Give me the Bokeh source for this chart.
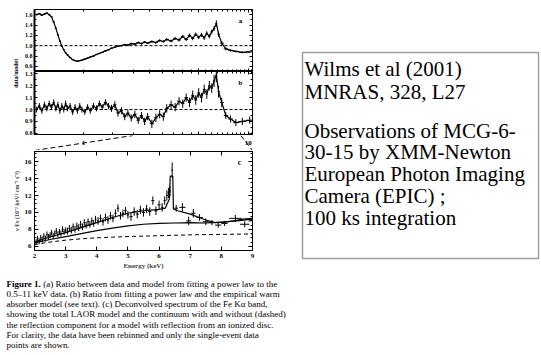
import math
from bokeh.plotting import figure
from bokeh.models import (Range1d, LinearAxis, LogAxis, FixedTicker, Span,
                          ColumnDataSource, PrintfTickFormatter, LogTicker)
from bokeh.layouts import row, column
from bokeh.embed import file_html
from bokeh.resources import INLINE
from bokeh.core.properties import value

# ---------------- data ----------------
ratio_energy = [0.52, 0.54, 0.56, 0.58, 0.60, 0.62, 0.64, 0.66, 0.68, 0.70,
                0.72, 0.74, 0.76, 0.78, 0.80, 0.83, 0.86, 0.89, 0.92, 0.95,
                0.98, 1.02, 1.06, 1.10, 1.15, 1.20, 1.25, 1.30, 1.36, 1.42,
                1.48, 1.55, 1.62, 1.70, 1.78, 1.86, 1.95, 2.05, 2.15, 2.25,
                2.35, 2.45, 2.60, 2.75, 2.90, 3.05, 3.20, 3.40, 3.60, 3.80,
                4.00, 4.20, 4.40, 4.60, 4.80, 5.00, 5.20, 5.40, 5.60, 5.80,
                6.00, 6.20, 6.40, 6.60, 6.90, 7.30, 7.80, 8.40, 9.20, 10.2]
ratio_powerlaw = [1.60, 1.62, 1.59, 1.61, 1.63, 1.60, 1.56, 1.46, 1.34, 1.21,
                  1.09, 0.99, 0.92, 0.86, 0.82, 0.77, 0.73, 0.71, 0.70, 0.71,
                  0.72, 0.74, 0.76, 0.78, 0.80, 0.83, 0.85, 0.87, 0.90, 0.92,
                  0.95, 0.97, 0.99, 1.00, 1.02, 1.01, 1.04, 1.03, 1.06, 1.04,
                  1.07, 1.05, 1.08, 1.06, 1.10, 1.08, 1.12, 1.09, 1.14, 1.11,
                  1.18, 1.12, 1.20, 1.14, 1.22, 1.16, 1.21, 1.15, 1.24, 1.18,
                  1.27, 1.33, 1.43, 1.22, 1.05, 0.94, 0.91, 0.89, 0.87, 0.88]
ratio_powerlaw_err = [0.015, 0.015, 0.015, 0.015, 0.015, 0.015, 0.015, 0.015, 0.015, 0.015,
                      0.012, 0.012, 0.012, 0.012, 0.012, 0.012, 0.012, 0.012, 0.012, 0.012,
                      0.012, 0.012, 0.012, 0.012, 0.012, 0.012, 0.012, 0.012, 0.015, 0.015,
                      0.015, 0.015, 0.015, 0.015, 0.015, 0.015, 0.02, 0.02, 0.02, 0.02,
                      0.02, 0.02, 0.025, 0.025, 0.025, 0.025, 0.025, 0.025, 0.03, 0.03,
                      0.03, 0.03, 0.035, 0.035, 0.035, 0.035, 0.04, 0.04, 0.04, 0.04,
                      0.04, 0.05, 0.06, 0.05, 0.04, 0.03, 0.025, 0.02, 0.02, 0.02]
ratio_warmabs = [1.00, 1.03, 0.99, 1.04, 1.01, 1.05, 1.02, 1.06, 1.01, 1.04,
                 0.99, 1.03, 1.00, 1.05, 1.01, 1.03, 0.98, 1.02, 0.99, 1.03,
                 1.00, 0.98, 1.02, 0.99, 1.03, 1.01, 1.05, 1.02, 1.06, 1.03,
                 1.01, 1.04, 0.97, 0.99, 0.94, 0.97, 0.93, 0.96, 0.91, 0.95,
                 0.90, 0.94, 0.88, 0.93, 0.96, 0.94, 1.01, 1.04, 1.02, 1.07,
                 1.05, 1.10, 1.06, 1.12, 1.08, 1.14, 1.10, 1.17, 1.13, 1.20,
                 1.18, 1.24, 1.29, 1.15, 1.06, 0.95, 0.92, 0.89, 0.90, 0.91]
ratio_warmabs_err = [0.025, 0.025, 0.025, 0.025, 0.025, 0.025, 0.025, 0.025, 0.025, 0.025,
                     0.025, 0.025, 0.025, 0.025, 0.025, 0.025, 0.025, 0.025, 0.025, 0.025,
                     0.025, 0.025, 0.025, 0.025, 0.025, 0.025, 0.025, 0.025, 0.025, 0.025,
                     0.03, 0.03, 0.03, 0.03, 0.03, 0.03, 0.03, 0.03, 0.03, 0.03,
                     0.03, 0.03, 0.035, 0.035, 0.035, 0.035, 0.035, 0.035, 0.035, 0.035,
                     0.035, 0.035, 0.04, 0.04, 0.04, 0.04, 0.04, 0.04, 0.04, 0.04,
                     0.04, 0.05, 0.06, 0.05, 0.04, 0.03, 0.03, 0.03, 0.03, 0.03]

ratio_xrange = [0.505, 10.6]
a_yrange = [0.5, 1.7]
b_yrange = [0.79, 1.32]
a_yticks = [0.6, 0.8, 1.0, 1.2, 1.4, 1.6]
a_yminor = [0.5, 0.7, 0.9, 1.1, 1.3, 1.5, 1.7]
b_yticks = [0.8, 0.9, 1.0, 1.1, 1.2, 1.3]
b_yminor = [0.85, 0.95, 1.05, 1.15, 1.25]
ratio_xticks = [1, 10]
ratio_xtick_labels = ["1", "10"]

fe_energy = [2.05, 2.10, 2.15, 2.20, 2.25, 2.30, 2.35, 2.40, 2.45, 2.50,
             2.55, 2.60, 2.65, 2.70, 2.75, 2.80, 2.85, 2.90, 2.95, 3.00,
             3.06, 3.12, 3.18, 3.24, 3.30, 3.36, 3.42, 3.48, 3.54, 3.60,
             3.66, 3.72, 3.78, 3.84, 3.90, 3.96,
             4.04, 4.12, 4.20, 4.28, 4.36, 4.44, 4.52, 4.60, 4.68, 4.76, 4.84, 4.92, 5.00,
             5.10, 5.20, 5.30, 5.40, 5.50, 5.60, 5.70, 5.80, 5.90, 6.00,
             6.10, 6.18, 6.25, 6.30, 6.35, 6.42,
             6.55, 6.75, 6.95, 7.10, 7.30, 7.50, 7.70, 7.90, 8.10, 8.45, 8.75, 9.00]
fe_flux = [6.5, 6.9, 6.6, 7.0, 6.8, 7.2, 6.9, 7.4, 7.1, 7.3,
           7.6, 7.2, 7.5, 7.8, 7.4, 7.7, 7.5, 8.0, 7.7, 7.9,
           7.8, 8.1, 7.9, 8.3, 8.0, 8.4, 8.2, 8.6, 8.3, 8.8,
           8.5, 8.9, 8.6, 9.0, 8.7, 9.2,
           9.0, 9.3, 8.9, 9.4, 9.1, 9.6, 9.3, 9.9, 10.5, 9.6, 9.9, 10.2, 9.7,
           9.5, 10.1, 9.8, 10.3, 10.0, 10.4, 10.1, 11.4, 10.2, 10.9,
           10.6, 11.4, 12.0, 12.3, 12.5, 15.0,
           10.5, 10.6, 9.0, 9.9, 9.4, 8.9, 8.8, 8.5, 8.7, 9.3, 8.6, 9.0]
fe_energy_err = [0.025, 0.025, 0.025, 0.025, 0.025, 0.025, 0.025, 0.025, 0.025, 0.025,
                 0.025, 0.025, 0.025, 0.025, 0.025, 0.025, 0.025, 0.025, 0.025, 0.025,
                 0.03, 0.03, 0.03, 0.03, 0.03, 0.03, 0.03, 0.03, 0.03, 0.03,
                 0.03, 0.03, 0.03, 0.03, 0.03, 0.03,
                 0.04, 0.04, 0.04, 0.04, 0.04, 0.04, 0.04, 0.04, 0.04, 0.04, 0.04, 0.04, 0.04,
                 0.05, 0.05, 0.05, 0.05, 0.05, 0.05, 0.05, 0.05, 0.05, 0.05,
                 0.04, 0.035, 0.03, 0.025, 0.025, 0.03,
                 0.06, 0.10, 0.08, 0.07, 0.10, 0.10, 0.10, 0.10, 0.10, 0.20, 0.15, 0.12]
fe_flux_err = [0.35, 0.35, 0.35, 0.35, 0.35, 0.35, 0.35, 0.35, 0.35, 0.35,
               0.35, 0.35, 0.35, 0.35, 0.35, 0.35, 0.35, 0.35, 0.35, 0.35,
               0.4, 0.4, 0.4, 0.4, 0.4, 0.4, 0.4, 0.4, 0.4, 0.4,
               0.4, 0.4, 0.4, 0.4, 0.4, 0.4,
               0.45, 0.45, 0.45, 0.45, 0.45, 0.45, 0.45, 0.45, 0.45, 0.45, 0.45, 0.45, 0.45,
               0.5, 0.5, 0.5, 0.5, 0.5, 0.5, 0.5, 0.5, 0.5, 0.5,
               0.5, 0.5, 0.6, 0.6, 0.6, 0.9,
               0.4, 0.5, 0.5, 0.5, 0.4, 0.4, 0.3, 0.3, 0.3, 0.4, 0.35, 0.35]

model_energy = [2.0, 2.5, 3.0, 3.5, 4.0, 4.5, 5.0, 5.5, 6.0, 6.2, 6.33, 6.36,
                6.44, 6.46, 6.6, 7.0, 7.5, 7.8, 8.1, 8.4, 8.7, 9.0]
model_total = [6.5, 7.1, 7.6, 8.2, 8.8, 9.4, 9.9, 10.2, 10.35, 10.5, 11.6, 14.3,
               14.3, 10.4, 10.2, 9.8, 9.1, 8.8, 8.85, 9.0, 9.2, 9.3]
cont_energy = [2.0, 2.5, 3.0, 3.5, 4.0, 4.5, 5.0, 5.5, 6.0, 6.5, 7.0, 7.5, 8.0, 8.5, 9.0]
cont_with_refl = [6.4, 6.8, 7.15, 7.5, 7.85, 8.15, 8.4, 8.6, 8.7, 8.75, 8.8, 8.75, 8.85, 9.0, 9.2]
cont_without_refl = [6.2, 6.5, 6.72, 6.88, 7.0, 7.08, 7.15, 7.2, 7.25, 7.3, 7.35, 7.38, 7.4, 7.43, 7.45]

c_xrange = [2, 9]
c_yrange = [5.5, 17.2]
c_xticks = [2, 3, 4, 5, 6, 7, 8, 9]
c_yticks = [6, 8, 10, 12, 14, 16]
c_yminor = [5.5, 6.5, 7, 7.5, 8.5, 9, 9.5, 10.5, 11, 11.5, 12.5, 13, 13.5,
            14.5, 15, 15.5, 16.5, 17]

caption_bold = "Figure 1."
caption_lines = [
    "(a) Ratio between data and model from fitting a power law to the",
    "0.5\u201311 keV data. (b) Ratio from fitting a power law and the empirical warm",
    "absorber model (see text). (c) Deconvolved spectrum of the Fe K\u03b1 band,",
    "showing the total LAOR model and the continuum with and without (dashed)",
    "the reflection component for a model with reflection from an ionized disc.",
    "For clarity, the data have been rebinned and only the single-event data",
    "points are shown.",
]
box_para1 = ["Wilms et al (2001)", "MNRAS, 328, L27"]
box_para2 = ["Observations of MCG-6-", "30-15 by XMM-Newton",
             "European Photon Imaging", "Camera (EPIC) ;", "100 ks integration"]

# ---------------- helpers ----------------
SERIF = "Liberation Serif"


def make_fig(w, h, xr, yr, borders, xlog=False, outline="black"):
    p = figure(width=w, height=h, x_range=Range1d(*xr), y_range=Range1d(*yr),
               x_axis_type="log" if xlog else "linear",
               x_axis_location=None, y_axis_location=None,
               output_backend="svg", toolbar_location=None,
               min_border_left=borders[0], min_border_right=borders[1],
               min_border_top=borders[2], min_border_bottom=borders[3])
    p.grid.visible = False
    p.background_fill_color = "white"
    p.border_fill_color = "white"
    p.outline_line_color = outline
    p.outline_line_width = 1
    return p


def style_axis(ax, labels, size="6px", tin=3, min_in=2, width=1):
    ax.major_tick_in = tin
    ax.major_tick_out = 0
    ax.minor_tick_in = min_in
    ax.minor_tick_out = 0
    ax.axis_line_color = "black"
    ax.axis_line_width = width
    ax.major_tick_line_color = "black"
    ax.minor_tick_line_color = "black"
    if labels:
        ax.major_label_text_font = SERIF
        ax.major_label_text_font_style = "bold"
        ax.major_label_text_font_size = size
        ax.major_label_text_color = "black"
        ax.major_label_standoff = 2
    else:
        ax.major_label_text_font_size = "1px"
        ax.major_label_text_color = None
        ax.major_label_standoff = 0
        ax.axis_label = None


def frac_log(r, f):
    return r[0] * (r[1] / r[0]) ** f


def frac_lin(r, f):
    return r[0] + (r[1] - r[0]) * f


def log_bins(e):
    edges = []
    for i in range(len(e)):
        lo = math.sqrt(e[i - 1] * e[i]) if i > 0 else e[0] / math.sqrt(e[1] / e[0])
        hi = math.sqrt(e[i] * e[i + 1]) if i < len(e) - 1 else e[-1] * math.sqrt(e[-1] / e[-2])
        edges.append((lo, hi))
    return edges


def ratio_panel(h, yr, yticks, yminor, vals, errs, letter, borders, letter_fy):
    p = make_fig(270, h, ratio_xrange, yr, borders, xlog=True)
    left = LinearAxis(ticker=FixedTicker(ticks=yticks, minor_ticks=yminor),
                      formatter=PrintfTickFormatter(format="%.1f"))
    style_axis(left, True, "6px", 3, 2, 2)
    right = LinearAxis(ticker=FixedTicker(ticks=yticks, minor_ticks=yminor))
    style_axis(right, False, tin=3, min_in=2)
    below = LogAxis(ticker=LogTicker(num_minor_ticks=10))
    style_axis(below, False, tin=3, min_in=2)
    above = LogAxis(ticker=LogTicker(num_minor_ticks=10))
    style_axis(above, False, tin=3, min_in=2)
    p.add_layout(left, "left")
    p.add_layout(right, "right")
    p.add_layout(below, "below")
    p.add_layout(above, "above")
    p.add_layout(Span(location=1.0, dimension="width", line_color="black",
                      line_width=1, line_dash="3 2"))
    bins = log_bins(ratio_energy)
    src = ColumnDataSource(dict(
        e=ratio_energy, v=vals,
        lo=[v - d for v, d in zip(vals, errs)],
        hi=[v + d for v, d in zip(vals, errs)],
        x0=[b[0] for b in bins], x1=[b[1] for b in bins]))
    p.line("e", "v", source=src, line_color="black", line_width=1.2)
    p.segment("e", "lo", "e", "hi", source=src, line_color="black", line_width=1)
    p.segment("x0", "v", "x1", "v", source=src, line_color="black", line_width=1)
    p.text(x=[frac_log(ratio_xrange, 0.945)], y=[frac_lin(yr, letter_fy)], text=[letter],
           text_font=value(SERIF), text_font_style="bold", text_font_size="7px",
           text_align="center", text_baseline="middle", text_color="black")
    return p


# ---------------- panels a, b ----------------
pa = ratio_panel(71, a_yrange, a_yticks, a_yminor, ratio_powerlaw, ratio_powerlaw_err,
                 "a", (14, 38, 9, 0), 0.82)
pb = ratio_panel(64, b_yrange, b_yticks, b_yminor, ratio_warmabs, ratio_warmabs_err,
                 "b", (14, 38, 0, 1), 0.82)

plab = make_fig(20, 135, [0, 20], [135, 0], (0, 0, 0, 0), outline=None)
plab.text(x=[15], y=[73], text=["data/model"], angle=math.pi / 2,
          text_font=value(SERIF), text_font_style="bold", text_font_size="6px",
          text_align="center", text_baseline="middle", text_color="black")

# ---------------- connector ----------------
pconn = make_fig(290, 15, ratio_xrange, [0, 1], (34, 38, 0, 0), xlog=True, outline=None)
pconn.segment(x0=[ratio_xrange[0], c_xrange[1]], y0=[0, 1],
              x1=[c_xrange[0], ratio_xrange[1]], y1=[1, 0],
              line_color="black", line_width=1, line_dash="5 3")
pconn.text(x=ratio_xticks, y=[0.5, 0.5], text=ratio_xtick_labels,
           text_font=value(SERIF), text_font_style="bold", text_font_size="7px",
           text_align="center", text_baseline="middle", text_color="black")

# ---------------- panel c ----------------
pc = make_fig(290, 122, c_xrange, c_yrange, (34, 37, 1, 19))
cx = LinearAxis(ticker=FixedTicker(ticks=c_xticks), axis_label="Energy (keV)")
style_axis(cx, True, "7px", 4, 2)
cx.major_label_standoff = 3
cx.axis_label_text_font = SERIF
cx.axis_label_text_font_style = "bold"
cx.axis_label_text_font_size = "7px"
cx.axis_label_standoff = 1
cy = LinearAxis(ticker=FixedTicker(ticks=c_yticks, minor_ticks=c_yminor),
                axis_label="\u03bd F\u03bd (10\u207b\u00b2 keV\u00b2 cm\u207b\u00b2 s\u207b\u00b9)")
style_axis(cy, True, "7px", 4, 2)
cy.major_label_standoff = 3
cy.axis_label_text_font = SERIF
cy.axis_label_text_font_style = "bold"
cy.axis_label_text_font_size = "6px"
cy.axis_label_standoff = 2
ca = LinearAxis(ticker=FixedTicker(ticks=c_xticks))
style_axis(ca, False, tin=4, min_in=2)
cr = LinearAxis(ticker=FixedTicker(ticks=c_yticks, minor_ticks=c_yminor))
style_axis(cr, False, tin=4, min_in=2)
pc.add_layout(cx, "below")
pc.add_layout(cy, "left")
pc.add_layout(ca, "above")
pc.add_layout(cr, "right")

csrc = ColumnDataSource(dict(
    e=fe_energy, v=fe_flux,
    x0=[e - d for e, d in zip(fe_energy, fe_energy_err)],
    x1=[e + d for e, d in zip(fe_energy, fe_energy_err)],
    y0=[v - d for v, d in zip(fe_flux, fe_flux_err)],
    y1=[v + d for v, d in zip(fe_flux, fe_flux_err)]))
pc.segment("x0", "v", "x1", "v", source=csrc, line_color="black", line_width=1)
pc.segment("e", "y0", "e", "y1", source=csrc, line_color="black", line_width=1)
pc.line(cont_energy, cont_without_refl, line_color="black", line_width=1, line_dash="4 3")
pc.line(cont_energy, cont_with_refl, line_color="black", line_width=1.2)
pc.line(model_energy, model_total, line_color="black", line_width=1.2)
pc.text(x=[frac_lin(c_xrange, 0.94)], y=[frac_lin(c_yrange, 0.89)], text=["c"],
        text_font=value(SERIF), text_font_style="bold", text_font_size="8px",
        text_align="center", text_baseline="middle", text_color="black")

# ---------------- text box (right of the panels) ----------------
ptb = make_fig(251, 272, [0, 236], [206, 0], (12, 3, 52, 14), outline="#a0a0a0")
ptb.outline_line_width = 1.5
box_lines = box_para1 + box_para2
box_y = [16 + 23.5 * i for i in range(len(box_para1))] + \
        [78 + 21.8 * i for i in range(len(box_para2))]
ptb.text(x=[2] * len(box_lines), y=box_y, text=box_lines,
         text_font=value(SERIF), text_font_size="21px",
         text_align="left", text_baseline="middle", text_color="black")

# ---------------- caption (full width strip below) ----------------
CAP_FS = 9
pcap = make_fig(541, 82, [0, 541], [82, 0], (0, 0, 0, 0), outline=None)
cap_y = [11 + 10.3 * i for i in range(len(caption_lines))]
bold_w = 4.083 * CAP_FS
pcap.text(x=[6], y=[cap_y[0]], text=[caption_bold], text_font=value(SERIF),
          text_font_style="bold", text_font_size=f"{CAP_FS}px",
          text_align="left", text_baseline="middle", text_color="black")
pcap.text(x=[6 + bold_w] + [6] * (len(caption_lines) - 1), y=cap_y, text=caption_lines,
          text_font=value(SERIF), text_font_size=f"{CAP_FS}px",
          text_align="left", text_baseline="middle", text_color="black")

left = column(row(plab, column(pa, pb)), pconn, pc)
layout = column(row(left, ptb), pcap)

open("out.html", "w").write(file_html(layout, INLINE))
